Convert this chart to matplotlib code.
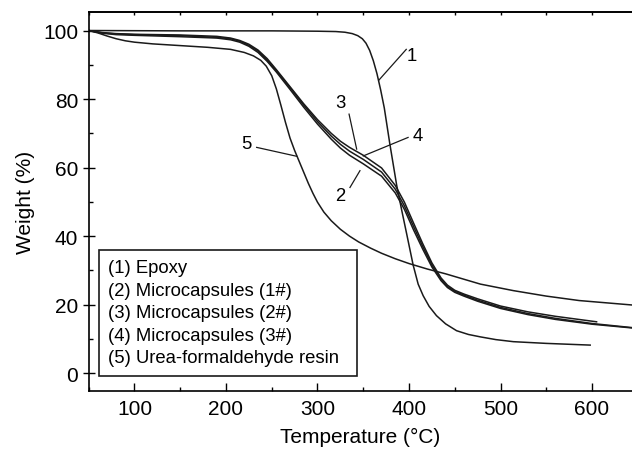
import numpy as np
import matplotlib.pyplot as plt
from matplotlib.ticker import MultipleLocator

plt.rcParams['font.family'] = ['Liberation Sans', 'DejaVu Sans']

# (1) Epoxy
t1 = [50, 150, 250, 300, 320, 330, 338, 344, 349, 353, 357, 361, 365, 369, 373, 379, 386.5,
      392, 397.5, 404.5, 410, 415.5, 422, 430, 440, 452, 465, 478, 495, 514, 550, 598]
w1 = [100, 99.9, 99.9, 99.8, 99.7, 99.5, 99.1, 98.5, 97.6, 96.3, 94.2, 91.2, 87.4, 82.7,
      77.4, 67.0, 54.9, 47.6, 40.6, 31.6, 26.0, 22.6, 19.5, 16.8, 14.4, 12.4, 11.3, 10.6,
      9.8, 9.2, 8.7, 8.2]

# (2)-(4) Microcapsules
t2 = [50, 65, 80, 100, 150, 190, 205, 215, 225, 235, 245, 255, 270, 285, 300, 315, 325,
      335, 350, 370, 385, 395, 405, 415, 425, 435, 442, 450, 460, 475, 500, 530, 560, 600,
      644]
w2 = [100, 99.2, 98.8, 98.6, 98.2, 97.8, 97.3, 96.6, 95.4, 93.6, 91.0, 87.9, 82.8, 77.6,
      72.7, 68.3, 65.7, 63.6, 61.1, 57.5, 52.6, 47.8, 41.8, 36.2, 31.0, 27.0, 25.0, 23.6,
      22.5, 21.0, 18.9, 17.1, 15.7, 14.3, 13.2]
t3 = [50, 65, 80, 100, 150, 190, 205, 215, 225, 235, 245, 255, 270, 285, 300, 315, 325,
      335, 350, 370, 385, 395, 405, 415, 425, 435, 442, 450, 460, 475, 500, 530, 560, 605]
w3 = [100, 99.4, 99.1, 98.9, 98.7, 98.3, 97.8, 97.1, 96.0, 94.3, 91.8, 88.6, 83.6, 78.6,
      74.0, 70.0, 67.7, 65.9, 63.6, 59.9, 54.8, 49.9, 43.8, 37.8, 32.2, 27.8, 25.7, 24.2,
      23.1, 21.7, 19.6, 17.9, 16.6, 15.0]
t4 = t2
w4 = [100, 99.3, 99.0, 98.8, 98.5, 98.0, 97.6, 96.9, 95.7, 94.0, 91.4, 88.3, 83.3, 78.2,
      73.4, 69.2, 66.8, 64.8, 62.4, 58.7, 53.7, 48.8, 42.8, 37.0, 31.6, 27.4, 25.3, 23.9,
      22.8, 21.3, 19.2, 17.4, 16.0, 14.5, 13.3]

# (5) Urea-formaldehyde resin
t5 = [50, 60, 70, 80, 90, 100, 120, 150, 180, 205, 220, 230, 238, 244, 250, 255, 260, 265,
      270, 275, 280, 285, 290, 295, 300, 307, 315, 325, 335, 345, 358, 370, 385, 400, 420,
      440, 478, 514, 550, 586, 644]
w5 = [100, 99.3, 98.4, 97.6, 97.0, 96.6, 96.1, 95.6, 95.1, 94.5, 93.6, 92.6, 91.3, 89.6,
      86.8, 83.0, 78.2, 73.2, 68.6, 65.0, 61.8, 58.6, 55.4, 52.5, 49.9, 47.0, 44.5, 42.0,
      40.0, 38.3, 36.5, 35.0, 33.4, 32.0, 30.4, 29.0, 26.0, 24.1, 22.5, 21.2, 19.9]

labels = ['(1) Epoxy', '(2) Microcapsules (1#)', '(3) Microcapsules (2#)',
          '(4) Microcapsules (3#)', '(5) Urea-formaldehyde resin']

fig = plt.figure(figsize=(6.32, 4.52), dpi=100)
ax = fig.add_axes([0.1404, 0.1327, 0.8596, 0.8385])

for t, w, lab in zip([t1, t2, t3, t4, t5], [w1, w2, w3, w4, w5], labels):
    ax.plot(t, w, color='#1a1a1a', lw=1.1, label=lab)

# curve number labels with leader lines
leaders = [
    ('1', (402.5, 92.8), [(367, 85.5), (397, 94.5)]),
    ('3', (324.6, 79.0), [(342.8, 65.4), (334.5, 75.6)]),
    ('4', (409.5, 69.3), [(350, 63.4), (399, 68.8)]),
    ('2', (324.6, 51.8), [(346.4, 59.1), (335.5, 54.2)]),
    ('5', (222.6, 66.9), [(277.3, 63.3), (233.5, 65.9)]),
]
for num, pos, seg in leaders:
    xs, ys = zip(*seg)
    ax.plot(xs, ys, color='#1a1a1a', lw=0.9)
    ax.text(pos[0], pos[1], num, fontsize=13.3, ha='center', va='center')

ax.set_xlim(50, 643.7)
ax.set_ylim(-5.2, 105.4)
ax.xaxis.set_major_locator(MultipleLocator(100))
ax.xaxis.set_minor_locator(MultipleLocator(50))
ax.yaxis.set_major_locator(MultipleLocator(20))
ax.yaxis.set_minor_locator(MultipleLocator(10))
ax.set_xticks([100, 200, 300, 400, 500, 600])

ax.tick_params(axis='x', which='major', direction='in', length=6, width=1, labelsize=15, pad=6)
ax.tick_params(axis='x', which='minor', direction='in', length=3, width=1)
ax.tick_params(axis='y', which='major', direction='inout', length=9, width=1, labelsize=15, pad=3)
ax.tick_params(axis='y', which='minor', direction='in', length=3, width=1)

ax.spines['right'].set_visible(False)
for s in ['left', 'bottom', 'top']:
    ax.spines[s].set_linewidth(1.2)

top = ax.secondary_xaxis('top')
top.xaxis.set_major_locator(MultipleLocator(50))
top.tick_params(direction='in', length=2, width=1, labeltop=False)
top.spines['top'].set_linewidth(1.2)

ax.set_xlabel('Temperature (°C)', fontsize=15, labelpad=6)
ax.set_ylabel('Weight (%)', fontsize=15, labelpad=6)

leg = ax.legend(loc='lower left', bbox_to_anchor=(0.0189, 0.0404, 0.4749, 0.3),
                mode='expand', borderaxespad=0, handlelength=0, handletextpad=0,
                fontsize=13.3, labelspacing=0.3, borderpad=0.5, fancybox=False,
                framealpha=1, edgecolor='#1a1a1a')
leg.get_frame().set_linewidth(1.2)

fig.savefig('out.png', dpi=100)
